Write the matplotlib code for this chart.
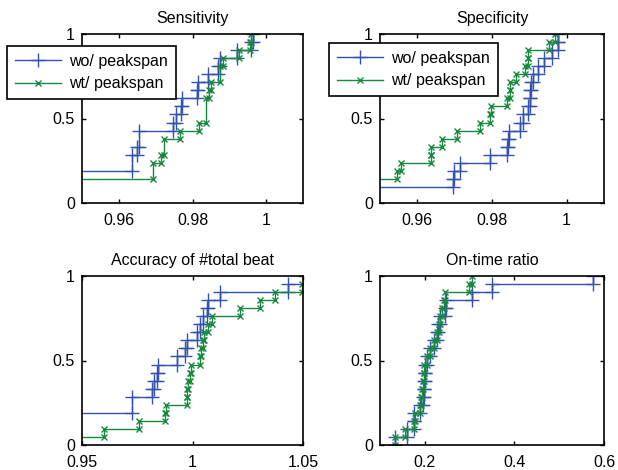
import numpy as np
import matplotlib
matplotlib.use("Agg")
import matplotlib.pyplot as plt
from matplotlib.ticker import FuncFormatter

plt.rcParams['font.family'] = ['Liberation Sans', 'DejaVu Sans']

# samples (21 per series), values off-axis estimated
titles = ["Sensitivity", "Specificity", "Accuracy of #total beat", "On-time ratio"]
labels = ["wo/ peakspan", "wt/ peakspan"]

sens_wo = [0.930, 0.935, 0.940, 0.945, 0.9635, 0.9635, 0.9648, 0.9655, 0.9655,
           0.9748, 0.9755, 0.9768, 0.9772, 0.9811, 0.9816, 0.9843, 0.9870,
           0.9874, 0.9920, 0.9960, 0.9965]
sens_wt = [0.935, 0.940, 0.945, 0.9692, 0.9692, 0.9715, 0.9723, 0.9723, 0.9766,
           0.9818, 0.9836, 0.9836, 0.9836, 0.9845, 0.9850, 0.9876, 0.9876,
           0.9882, 0.9927, 0.9956, 0.9958]

spec_wo = [0.940, 0.945, 0.9696, 0.9697, 0.9714, 0.9795, 0.9841, 0.9842, 0.9845,
           0.9875, 0.9884, 0.9897, 0.9902, 0.9903, 0.9905, 0.9911, 0.9924,
           0.9938, 0.9960, 0.9976, 0.9978]
spec_wt = [0.935, 0.940, 0.945, 0.9545, 0.9555, 0.9636, 0.9637, 0.9665, 0.9707,
           0.9768, 0.9795, 0.9797, 0.9839, 0.9847, 0.9848, 0.9864, 0.9888,
           0.9896, 0.9897, 0.9954, 0.9969]

acc_wo = [0.930, 0.935, 0.940, 0.945, 0.9724, 0.9724, 0.9815, 0.9825, 0.9838,
          0.9845, 0.9928, 0.9966, 0.9973, 1.0019, 1.0034, 1.0049, 1.0064,
          1.0071, 1.0124, 1.0434, 1.0600]
acc_wt = [0.945, 0.9600, 0.9760, 0.9876, 0.9878, 0.9973, 0.9974, 0.9978, 0.9988,
          0.9995, 1.0034, 1.0038, 1.0046, 1.0050, 1.0068, 1.0089, 1.0215,
          1.0305, 1.0373, 1.0495, 1.0600]

ont_wo = [0.134, 0.160, 0.175, 0.177, 0.190, 0.197, 0.198, 0.199, 0.200, 0.201,
          0.204, 0.212, 0.220, 0.227, 0.230, 0.235, 0.245, 0.247, 0.306, 0.351,
          0.575]
ont_wt = [0.134, 0.156, 0.176, 0.178, 0.190, 0.192, 0.194, 0.196, 0.198, 0.199,
          0.205, 0.212, 0.220, 0.227, 0.231, 0.235, 0.239, 0.242, 0.246, 0.298,
          0.306]

data = [(sens_wo, sens_wt), (spec_wo, spec_wt), (acc_wo, acc_wt), (ont_wo, ont_wt)]
xlims = [(0.95, 1.01), (0.95, 1.01), (0.95, 1.05), (0.1, 0.6)]
xticks = [[0.96, 0.98, 1.0], [0.96, 0.98, 1.0], [0.95, 1.0, 1.05], [0.2, 0.4, 0.6]]

blue = '#3352b0'
green = '#17893f'


def ecdf_stairs(samples):
    vals, counts = np.unique(np.asarray(samples), return_counts=True)
    f = np.cumsum(counts) / len(samples)
    x = np.repeat(vals, 2)
    y = np.empty_like(x)
    y[0::2] = np.concatenate(([0.0], f[:-1]))
    y[1::2] = f
    return x, y


fig = plt.figure(figsize=(6.18, 4.70), dpi=100)
W, H = 618.0, 470.0
boxes = [(82, 34, 303, 203), (380, 34, 604, 203),
         (82, 276, 303, 445), (380, 276, 604, 445)]

fmt = FuncFormatter(lambda v, p: '%g' % v)

for i, (l, t, r, b) in enumerate(boxes):
    ax = fig.add_axes([l / W, 1 - b / H, (r - l) / W, (b - t) / H])
    wo, wt = data[i]
    x, y = ecdf_stairs(wo)
    ax.plot(x, y, color=blue, lw=1.0, marker='+', ms=10, mew=1.0, label=labels[0])
    x, y = ecdf_stairs(wt)
    ax.plot(x, y, color=green, lw=1.0, marker='x', ms=4.5, mew=1.0, label=labels[1])
    ax.set_xlim(*xlims[i])
    ax.set_ylim(0, 1)
    ax.set_xticks(xticks[i])
    ax.set_yticks([0, 0.5, 1])
    ax.xaxis.set_major_formatter(fmt)
    ax.yaxis.set_major_formatter(fmt)
    ax.tick_params(direction='in', length=3, width=1, top=True, right=True,
                   labelsize=11.5)
    ax.tick_params(axis='x', pad=7)
    ax.tick_params(axis='y', pad=5)
    for s in ax.spines.values():
        s.set_linewidth(1.2)
    ax.set_title(titles[i], fontsize=11.5, pad=8)

    if i < 2:
        anchor = (7 / W, 1 - 46 / H) if i == 0 else (329 / W, 1 - 43 / H)
        leg = ax.legend(loc='upper left', bbox_to_anchor=anchor,
                        bbox_transform=fig.transFigure, borderaxespad=0,
                        fontsize=11.5, fancybox=False, framealpha=1,
                        edgecolor='black', handlelength=2.9, borderpad=0.5,
                        labelspacing=0.45, handletextpad=0.5)
        leg.get_frame().set_linewidth(1.2)

fig.savefig('out.png', dpi=100)
